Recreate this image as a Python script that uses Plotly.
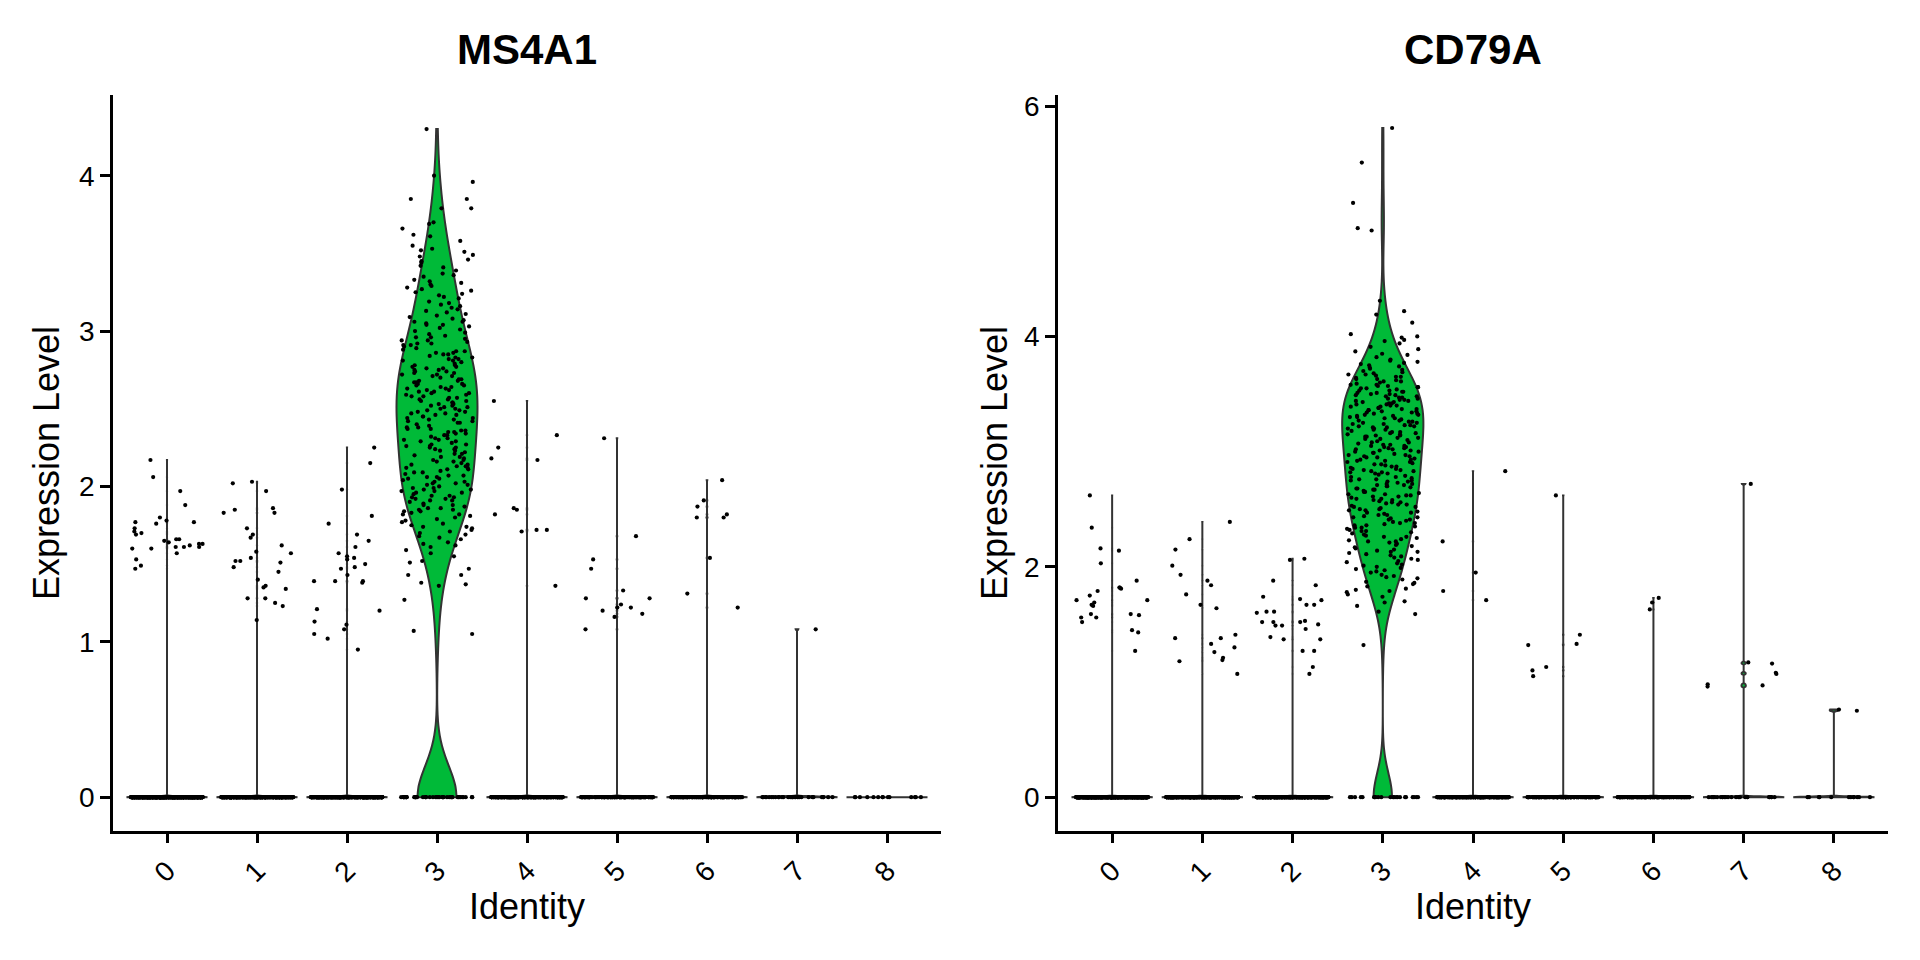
import math
import plotly.graph_objects as go

# ---------------- data ----------------
cluster_labels = ["0", "1", "2", "3", "4", "5", "6", "7", "8"]
cluster_pos = [0, 1, 2, 3, 4, 5, 6, 7, 8]

# MS4A1: number of cells with zero expression per cluster
ms4a1_zero_counts = [668, 452, 444, 45, 259, 148, 146, 31, 14]
# MS4A1: non-zero expression values per cluster
ms4a1_c0 = [2.17, 2.06, 1.97, 1.88, 1.80, 1.78, 1.77, 1.77, 1.76, 1.73, 1.71, 1.70, 1.69, 1.66, 1.66,
            1.65, 1.64, 1.63, 1.63, 1.62, 1.61, 1.61, 1.61, 1.60, 1.60, 1.57, 1.53, 1.49, 1.47]
ms4a1_c1 = [2.03, 2.02, 1.97, 1.86, 1.85, 1.83, 1.83, 1.73, 1.69, 1.67, 1.62, 1.58, 1.57, 1.54,
            1.52, 1.52, 1.51, 1.48, 1.45, 1.40, 1.36, 1.35, 1.34, 1.28, 1.28, 1.25, 1.23, 1.14]
ms4a1_c2 = [2.25, 2.15, 1.98, 1.81, 1.76, 1.69, 1.65, 1.61, 1.57, 1.55, 1.54, 1.53, 1.50, 1.48,
            1.47, 1.43, 1.39, 1.39, 1.39, 1.38, 1.21, 1.20, 1.13, 1.11, 1.08, 1.05, 1.02, 0.95]
ms4a1_c3 = [1.05, 1.07, 1.27, 1.36, 1.37, 1.38, 1.43, 1.43, 1.47,
            1.51, 1.55, 1.57, 1.59, 1.52,
            1.61, 1.64, 1.66, 1.68, 1.63, 1.69, 1.62, 1.67,
            1.71, 1.73, 1.74, 1.76, 1.77, 1.72, 1.78, 1.79, 1.75, 1.70, 1.74,
            1.81, 1.82, 1.84, 1.85, 1.86, 1.88, 1.83, 1.87, 1.89, 1.80, 1.84, 1.86, 1.82, 1.88, 1.85,
            1.90, 1.91, 1.92, 1.93, 1.94, 1.95, 1.96, 1.97, 1.98, 1.99, 1.92, 1.94, 1.96, 1.98, 1.91, 1.93, 1.97, 1.99,
            2.00, 2.01, 2.02, 2.03, 2.04, 2.05, 2.06, 2.07, 2.08, 2.09, 2.01, 2.03, 2.05, 2.07, 2.02, 2.06, 2.09,
            2.10, 2.11, 2.12, 2.13, 2.14, 2.15, 2.16, 2.17, 2.18, 2.19, 2.12, 2.14, 2.16, 2.11, 2.13, 2.17, 2.19,
            2.21, 2.23, 2.24, 2.26, 2.27, 2.29, 2.20, 2.22, 2.25, 2.28, 2.21, 2.24, 2.26, 2.23, 2.27, 2.29, 2.25,
            2.30, 2.31, 2.33, 2.34, 2.35, 2.36, 2.38, 2.39, 2.32, 2.37, 2.31, 2.33, 2.35, 2.36, 2.34, 2.38, 2.30, 2.37,
            2.40, 2.41, 2.42, 2.43, 2.44, 2.45, 2.46, 2.47, 2.48, 2.49, 2.41, 2.43, 2.45, 2.47, 2.42, 2.44, 2.46, 2.48, 2.49,
            2.50, 2.51, 2.52, 2.53, 2.54, 2.55, 2.56, 2.57, 2.58, 2.59, 2.51, 2.53, 2.55, 2.57, 2.59, 2.52, 2.54, 2.56, 2.58, 2.50,
            2.60, 2.61, 2.62, 2.63, 2.64, 2.65, 2.66, 2.67, 2.68, 2.69, 2.61, 2.63, 2.65, 2.67, 2.69, 2.62, 2.64, 2.66, 2.68, 2.60,
            2.70, 2.71, 2.72, 2.73, 2.74, 2.75, 2.76, 2.77, 2.78, 2.79, 2.71, 2.73, 2.75, 2.77, 2.72, 2.74, 2.76, 2.78,
            2.80, 2.81, 2.82, 2.83, 2.84, 2.85, 2.86, 2.87, 2.88, 2.89, 2.81, 2.83, 2.85, 2.87, 2.82, 2.86,
            2.90, 2.91, 2.92, 2.93, 2.94, 2.95, 2.96, 2.97, 2.98, 2.99, 2.92, 2.94, 2.96, 2.91,
            3.00, 3.01, 3.03, 3.04, 3.05, 3.06, 3.08, 3.09, 3.02, 3.07, 3.04, 3.06,
            3.10, 3.12, 3.13, 3.15, 3.16, 3.18, 3.19, 3.11, 3.14, 3.17,
            3.21, 3.22, 3.24, 3.25, 3.27, 3.28, 3.23, 3.26, 3.29,
            3.30, 3.32, 3.33, 3.35, 3.37, 3.39, 3.31, 3.36,
            3.41, 3.42, 3.45, 3.46, 3.48, 3.49, 3.44,
            3.51, 3.52, 3.55, 3.58, 3.53,
            3.61, 3.62, 3.66, 3.69,
            3.70, 3.79, 3.79, 3.85, 3.85, 3.96, 4.00, 4.30]
ms4a1_c4 = [2.55, 2.33, 2.25, 2.18, 2.17, 1.86, 1.85, 1.82, 1.72, 1.72, 1.71, 1.36]
ms4a1_c5 = [2.31, 1.68, 1.53, 1.47, 1.33, 1.28, 1.28, 1.24, 1.22, 1.22, 1.20, 1.18, 1.16, 1.08]
ms4a1_c6 = [2.04, 1.91, 1.87, 1.82, 1.80, 1.80, 1.54, 1.31, 1.22]
ms4a1_c7 = [1.08]
ms4a1_c8 = []
ms4a1_bandwidth = [0.004, 0.004, 0.004, 0.20, 0.004, 0.004, 0.004, 0.004, 0.004]

# CD79A
cd79a_zero_counts = [672, 460, 445, 22, 266, 155, 152, 24, 12]
cd79a_c0 = [2.62, 2.34, 2.16, 2.14, 2.03, 1.88, 1.82, 1.82, 1.81, 1.79, 1.75, 1.71, 1.71,
            1.69, 1.67, 1.66, 1.59, 1.59, 1.58, 1.56, 1.56, 1.52, 1.45, 1.43, 1.27]
cd79a_c1 = [2.39, 2.24, 2.15, 2.01, 1.93, 1.88, 1.84, 1.76, 1.67, 1.64, 1.41, 1.38, 1.38, 1.33,
            1.30, 1.26, 1.21, 1.19, 1.18, 1.07]
cd79a_c2 = [2.07, 2.06, 1.88, 1.84, 1.74, 1.72, 1.71, 1.67, 1.67, 1.61, 1.61, 1.60, 1.53, 1.52,
            1.52, 1.52, 1.50, 1.49, 1.49, 1.46, 1.39, 1.37, 1.37, 1.27, 1.27, 1.13, 1.07]
cd79a_c3 = [1.32, 1.59, 1.61, 1.66, 1.69,
            1.70, 1.74, 1.76, 1.78, 1.79,
            1.80, 1.81, 1.83, 1.85, 1.86, 1.87, 1.89,
            1.90, 1.92, 1.93, 1.95, 1.97, 1.98, 1.99, 1.91, 1.96,
            2.00, 2.01, 2.03, 2.04, 2.05, 2.06, 2.08, 2.09, 2.02, 2.07,
            2.10, 2.11, 2.12, 2.13, 2.14, 2.15, 2.16, 2.17, 2.18, 2.19, 2.13,
            2.20, 2.21, 2.22, 2.23, 2.24, 2.25, 2.26, 2.27, 2.28, 2.29, 2.22, 2.26,
            2.30, 2.31, 2.32, 2.33, 2.34, 2.35, 2.36, 2.37, 2.38, 2.39, 2.31, 2.34, 2.36, 2.38,
            2.40, 2.41, 2.42, 2.43, 2.44, 2.45, 2.46, 2.47, 2.48, 2.49, 2.41, 2.43, 2.45, 2.47, 2.49,
            2.50, 2.51, 2.52, 2.53, 2.54, 2.55, 2.56, 2.57, 2.58, 2.59, 2.50, 2.52, 2.54, 2.56, 2.58, 2.59,
            2.60, 2.61, 2.62, 2.63, 2.64, 2.65, 2.66, 2.67, 2.68, 2.69, 2.61, 2.63, 2.65, 2.67, 2.68, 2.62,
            2.70, 2.71, 2.72, 2.73, 2.74, 2.75, 2.76, 2.77, 2.78, 2.79, 2.70, 2.72, 2.74, 2.76, 2.78, 2.71, 2.75,
            2.80, 2.81, 2.82, 2.83, 2.84, 2.85, 2.86, 2.87, 2.88, 2.89, 2.81, 2.83, 2.85, 2.87, 2.89, 2.82, 2.84,
            2.90, 2.91, 2.92, 2.93, 2.94, 2.95, 2.96, 2.97, 2.98, 2.99, 2.91, 2.93, 2.95, 2.97, 2.99, 2.92, 2.96,
            3.00, 3.01, 3.02, 3.03, 3.04, 3.05, 3.06, 3.07, 3.08, 3.09, 3.00, 3.02, 3.04, 3.06, 3.08, 3.01, 3.03, 3.05,
            3.10, 3.11, 3.12, 3.13, 3.14, 3.15, 3.16, 3.17, 3.18, 3.19, 3.11, 3.13, 3.15, 3.17, 3.19, 3.12, 3.14, 3.16,
            3.20, 3.21, 3.22, 3.23, 3.24, 3.25, 3.26, 3.27, 3.28, 3.29, 3.20, 3.21, 3.23, 3.25, 3.27, 3.29, 3.22, 3.24, 3.26,
            3.30, 3.31, 3.32, 3.33, 3.34, 3.35, 3.36, 3.37, 3.38, 3.39, 3.30, 3.31, 3.32, 3.33, 3.34, 3.35, 3.36, 3.37, 3.38, 3.39,
            3.40, 3.41, 3.42, 3.43, 3.44, 3.45, 3.46, 3.47, 3.48, 3.49, 3.40, 3.41, 3.42, 3.43, 3.44, 3.45, 3.46, 3.47, 3.48, 3.49,
            3.50, 3.51, 3.52, 3.53, 3.54, 3.55, 3.56, 3.57, 3.58, 3.59, 3.50, 3.51, 3.53, 3.55, 3.56, 3.57, 3.58, 3.52,
            3.60, 3.61, 3.62, 3.63, 3.64, 3.65, 3.66, 3.67, 3.68, 3.69, 3.61, 3.63, 3.65, 3.67,
            3.70, 3.71, 3.72, 3.73, 3.74, 3.75, 3.76, 3.77, 3.78, 3.79,
            3.80, 3.82, 3.84, 3.85, 3.87, 3.89,
            3.91, 3.94, 3.96, 3.97, 3.99,
            4.00, 4.02, 4.12, 4.19, 4.22, 4.31, 4.92, 4.94, 5.16, 5.51, 5.81]
cd79a_c4 = [2.83, 2.22, 1.95, 1.79, 1.71]
cd79a_c5 = [2.62, 1.41, 1.33, 1.32, 1.13, 1.10, 1.05]
cd79a_c6 = [1.73, 1.69, 1.63]
cd79a_c7 = [2.72, 1.17, 1.16, 1.08, 1.07, 0.98, 0.97, 0.96]
cd79a_c8 = [0.76, 0.75]
cd79a_bandwidth = [0.005, 0.005, 0.005, 0.21, 0.005, 0.005, 0.005, 0.005, 0.005]

genes = ["MS4A1", "CD79A"]

# ---------------- style ----------------
FONT = "Liberation Sans, Arial, Helvetica, sans-serif"
FILL = "#00BA38"
OUTLINE = "#333333"
W, H = 1920, 960


def jitter(n, half=0.4, seed=0.0):
    # deterministic hash-based horizontal jitter (geom_jitter look, width 0.4)
    out = []
    for i in range(n):
        v = math.sin((i + 1) * 12.9898 + seed * 78.233) * 43758.5453
        u = v - math.floor(v)
        out.append((u - 0.5) * 2 * half)
    return out


panels = [
    dict(gene="MS4A1", zeros=ms4a1_zero_counts,
         nonzero=[ms4a1_c0, ms4a1_c1, ms4a1_c2, ms4a1_c3, ms4a1_c4, ms4a1_c5, ms4a1_c6, ms4a1_c7, ms4a1_c8],
         bw=ms4a1_bandwidth, xa="x", ya="y"),
    dict(gene="CD79A", zeros=cd79a_zero_counts,
         nonzero=[cd79a_c0, cd79a_c1, cd79a_c2, cd79a_c3, cd79a_c4, cd79a_c5, cd79a_c6, cd79a_c7, cd79a_c8],
         bw=cd79a_bandwidth, xa="x2", ya="y2"),
]

fig = go.Figure()

for pi, p in enumerate(panels):
    for k, pos in enumerate(cluster_pos):
        vals = [0.0] * p["zeros"][k] + list(p["nonzero"][k])
        if min(vals) == max(vals):
            # degenerate (all identical) group: a flat violin, drawn as a zero-height box
            fig.add_trace(go.Box(
                x0=pos, y=vals, xaxis=p["xa"], yaxis=p["ya"], width=0.9,
                boxpoints=False, whiskerwidth=0, fillcolor=FILL,
                line=dict(color=OUTLINE, width=2), hoverinfo="skip", showlegend=False,
            ))
        else:
            fig.add_trace(go.Violin(
                x0=pos, y=vals, xaxis=p["xa"], yaxis=p["ya"],
                width=0.9, scalemode="width", spanmode="hard", bandwidth=p["bw"][k],
                points=False, box_visible=False, meanline_visible=False,
                fillcolor=FILL, line=dict(color=OUTLINE, width=2),
                opacity=1, hoverinfo="skip", showlegend=False, orientation="v",
            ))
    for k, pos in enumerate(cluster_pos):
        vals = [0.0] * p["zeros"][k] + list(p["nonzero"][k])
        offs = jitter(len(vals), seed=1.7 * k + 11.3 * pi + 0.5)
        fig.add_trace(go.Scatter(
            x=[pos + o for o in offs], y=vals, xaxis=p["xa"], yaxis=p["ya"],
            mode="markers", marker=dict(size=4.2, color="black", line=dict(width=0)),
            hoverinfo="skip", showlegend=False,
        ))

ydom = [1 - 830 / H, 1 - 91 / H]
axis_common = dict(showline=True, linecolor="black", linewidth=2.5, mirror=False,
                   ticks="outside", ticklen=10, tickwidth=2.5, tickcolor="black",
                   showgrid=False, zeroline=False,
                   tickfont=dict(family=FONT, size=28, color="black"))

fig.update_layout(
    width=W, height=H, margin=dict(l=0, r=0, t=0, b=0),
    paper_bgcolor="white", plot_bgcolor="white",
    violinmode="overlay", boxmode="overlay",
    xaxis=dict(domain=[113 / W, 941 / W], anchor="y", range=[-0.6, 8.6],
               tickvals=cluster_pos, ticktext=cluster_labels, tickangle=-45, **axis_common),
    yaxis=dict(domain=ydom, anchor="x", range=[-0.215, 4.522],
               tickvals=[0, 1, 2, 3, 4], ticktext=["0", "1", "2", "3", "4"], **axis_common),
    xaxis2=dict(domain=[1058 / W, 1888 / W], anchor="y2", range=[-0.6, 8.6],
                tickvals=cluster_pos, ticktext=cluster_labels, tickangle=-45, **axis_common),
    yaxis2=dict(domain=ydom, anchor="x2", range=[-0.29, 6.10],
                tickvals=[0, 2, 4, 6], ticktext=["0", "2", "4", "6"], **axis_common),
    font=dict(family=FONT, color="black"),
)

annos = []
centers = [527, 1473]
ylab_x = [46, 994]
for i, p in enumerate(panels):
    annos.append(dict(text="<b>%s</b>" % p["gene"], x=centers[i] / W, y=1 - 46 / H,
                      xref="paper", yref="paper", xanchor="center", yanchor="middle",
                      showarrow=False, font=dict(family=FONT, size=42, color="black")))
    annos.append(dict(text="Identity", x=centers[i] / W, y=1 - 906 / H,
                      xref="paper", yref="paper", xanchor="center", yanchor="middle",
                      showarrow=False, font=dict(family=FONT, size=36, color="black")))
    annos.append(dict(text="Expression Level", x=ylab_x[i] / W, y=1 - 461 / H, textangle=-90,
                      xref="paper", yref="paper", xanchor="center", yanchor="middle",
                      showarrow=False, font=dict(family=FONT, size=36, color="black")))
fig.update_layout(annotations=annos)

fig.write_html("out.html")
